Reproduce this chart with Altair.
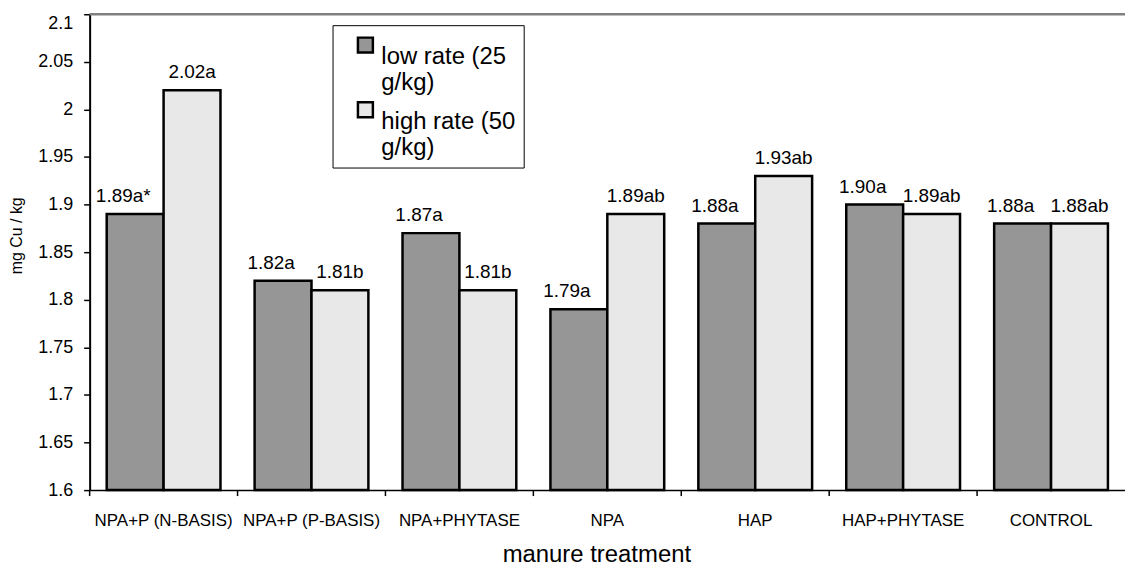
import altair as alt
import pandas as pd

categories = ["NPA+P (N-BASIS)", "NPA+P (P-BASIS)", "NPA+PHYTASE", "NPA", "HAP", "HAP+PHYTASE", "CONTROL"]
series = ["low rate (25 g/kg)", "high rate (50 g/kg)"]
low_values = [1.89, 1.82, 1.87, 1.79, 1.88, 1.90, 1.88]
high_values = [2.02, 1.81, 1.81, 1.89, 1.93, 1.89, 1.88]
low_labels = ["1.89a*", "1.82a", "1.87a", "1.79a", "1.88a", "1.90a", "1.88a"]
high_labels = ["2.02a", "1.81b", "1.81b", "1.89ab", "1.93ab", "1.89ab", "1.88ab"]
y_ticks = [1.6, 1.65, 1.7, 1.75, 1.8, 1.85, 1.9, 1.95, 2.0, 2.05, 2.1]
colors = ["#969696", "#e8e8e8"]

rows = []
for c, v, l in zip(categories, low_values, low_labels):
    rows.append({"treatment": c, "series": series[0], "value": v, "label": l})
for c, v, l in zip(categories, high_values, high_labels):
    rows.append({"treatment": c, "series": series[1], "value": v, "label": l})
df = pd.DataFrame(rows)

W, H = 1040, 478
FONT = "Liberation Sans"

x_enc = alt.X(
    "treatment:N",
    sort=categories,
    scale=alt.Scale(paddingInner=0, paddingOuter=0),
    axis=alt.Axis(
        title="manure treatment",
        labelAngle=0,
        labelFontSize=17,
        labelColor="black",
        labelPadding=23,
        ticks=False,
        tickSize=0,
        domainColor="black",
        domainWidth=1.5,
        titleFontSize=24,
        titleFontWeight="normal",
        titleColor="black",
        titleX=509,
        titleY=72,
        titleAlign="center",
        titleBaseline="alphabetic",
    ),
)
xoff_enc = alt.XOffset("series:N", sort=series, scale=alt.Scale(paddingInner=0, paddingOuter=0.3))
y_enc = alt.Y(
    "value:Q",
    scale=alt.Scale(domain=[1.6, 2.1], zero=False, nice=False),
    axis=alt.Axis(
        values=y_ticks,
        format="~g",
        title="mg Cu / kg",
        grid=False,
        labelFontSize=18,
        labelColor="black",
        labelPadding=11,
        labelBaseline={"condition": {"test": "datum.value >= 2.1", "value": "top"}, "value": "middle"},
        tickSize=6,
        tickColor="black",
        tickWidth=1.5,
        domainColor="black",
        domainWidth=2,
        titleFontSize=16,
        titleFontWeight="normal",
        titleColor="black",
        titleAngle=270,
        titleX=-68,
        titleY=222,
        titleAlign="center",
        titleBaseline="alphabetic",
    ),
)

legend = alt.Legend(
    title=None,
    orient="none",
    legendX=244,
    legendY=11,
    direction="vertical",
    strokeColor="black",
    fillColor="white",
    padding=8,
    symbolOffset=13,
    symbolType="square",
    symbolSize=225,
    symbolStrokeColor="black",
    symbolStrokeWidth=2.5,
    symbolOpacity=1,
    labelFontSize=24,
    labelColor="black",
    labelLimit=400,
    labelOffset=4,
    labelBaseline="top",
    rowPadding=2,
    labelExpr="[replace(datum.label, ' g/kg)', '') + '    ', 'g/kg)']",
)

bars = alt.Chart(df).mark_bar(stroke="black", strokeWidth=2.5).encode(
    x=x_enc,
    xOffset=xoff_enc,
    y=y_enc,
    y2=alt.datum(1.6),
    color=alt.Color("series:N", sort=series, scale=alt.Scale(domain=series, range=colors), legend=legend),
)

low_text = alt.Chart(df).transform_filter(alt.datum.series == series[0]).mark_text(
    baseline="alphabetic", dy=-12, dx=-12, fontSize=19, color="black", font=FONT
).encode(x=alt.X("treatment:N", sort=categories), xOffset=alt.XOffset("series:N", sort=series), y="value:Q", text="label:N")

high_text = alt.Chart(df).transform_filter(alt.datum.series == series[1]).mark_text(
    baseline="alphabetic", dy=-12, fontSize=19, color="black", font=FONT
).encode(x=alt.X("treatment:N", sort=categories), xOffset=alt.XOffset("series:N", sort=series), y="value:Q", text="label:N")

tick_df = pd.DataFrame({"treatment": categories})
cat_ticks = alt.Chart(tick_df).mark_rule(color="black", strokeWidth=1.5).encode(
    x=alt.X("treatment:N", sort=categories, bandPosition=0),
    y=alt.value(H),
    y2=alt.value(H + 6),
)

top_df = pd.DataFrame({"value": [2.1]})
top_border = alt.Chart(top_df).mark_rule(color="#808080", strokeWidth=2.5).encode(
    y="value:Q",
    x=alt.value(0),
    x2=alt.value(W),
)

chart = alt.layer(bars, low_text, high_text, cat_ticks, top_border).properties(
    width=W,
    height=H,
    autosize=alt.AutoSizeParams(type="none"),
    padding={"left": 82, "top": 5, "right": 0, "bottom": 78},
    background="white",
).configure(font=FONT).configure_view(stroke=None)

chart.save("out.html", embed_options={"renderer": "svg", "actions": False})
